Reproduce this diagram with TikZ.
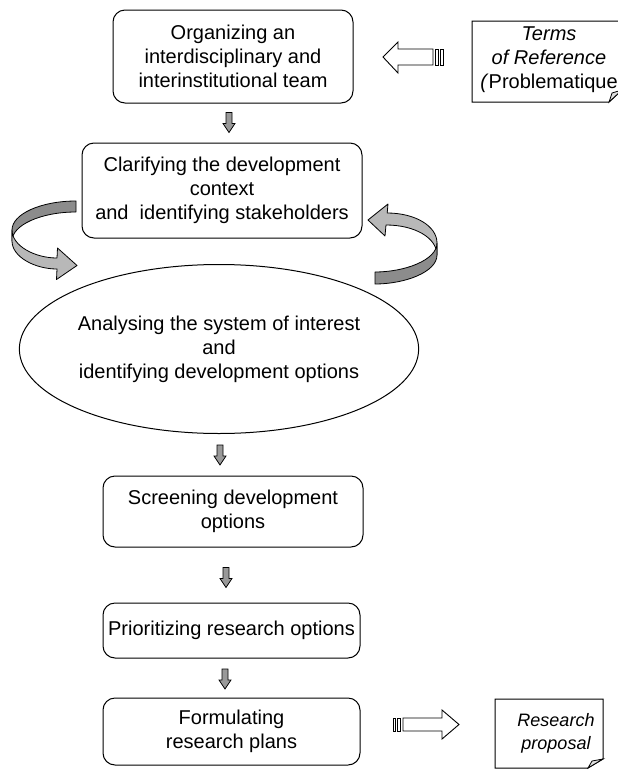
\documentclass[tikz,border=0pt]{standalone}
\usepackage{fontspec}
\setmainfont{Liberation Sans}
\usetikzlibrary{shapes.geometric,calc}
\definecolor{ribdark}{gray}{0.55}
\definecolor{riblight}{gray}{0.72}
\definecolor{arrgray}{gray}{0.6}
\newcommand\dnarrow[1]{%
  \draw[line width=0.8pt, fill=arrgray]
    ($(#1)+(-3,-10)$) -- ++(6,0) -- ++(0,11) -- ++(3,0) -- ($(#1)+(0,10)$)
    -- ($(#1)+(-6,1)$) -- ++(3,0) -- cycle;}
\begin{document}
\begin{tikzpicture}[x=1pt,y=-1pt,
  txt/.style={font=\fontsize{20}{24}\selectfont, align=center},
  box/.style={txt, draw, line width=1pt, rounded corners=12pt, inner sep=2pt},
  rib/.style={draw, line width=0.8pt, line join=round},
  blk/.style={draw, line width=0.9pt, fill=white},
  doc/.style={draw, line width=1pt, fill=white}]
\useasboundingbox (0,0) rectangle (618,769);

% main boxes
\node[box, minimum width=240pt, minimum height=93pt] (b1) at (233,56.5)
  {Organizing an\\interdisciplinary and\\interinstitutional team};
\node[box, minimum width=280pt, minimum height=95pt] (b2) at (222,190.5)
  {Clarifying the development\\context\\and\ \ identifying stakeholders};
\node[txt, draw, line width=1pt, ellipse, minimum width=372pt, minimum height=169pt, inner sep=0pt] (ell) at (219,349)
  {Analysing the system of interest\\and\\identifying development options};
\node[box, minimum width=260pt, minimum height=71pt] (b3) at (233,511.5)
  {Screening development\\options};
\node[box, minimum width=257pt, minimum height=55pt] (b4) at (231.5,630.5)
  {Prioritizing research options};
\node[box, minimum width=257pt, minimum height=67pt] (b5) at (231.5,731.5)
  {Formulating\\research plans};

% documents
\draw[doc] (472,21) -- (622,21) -- (622,90) -- (609,102) -- (472,102) -- cycle;
\draw[line width=0.8pt, fill=gray!25] (609,102) -- (612,93) -- (622,90) -- cycle;
\node[txt, inner sep=0pt] (tor) at (549,60)
  {\textit{Terms}\\\textit{of Reference}\\\textit{(}Problematique};

\draw[doc] (495,699) -- (603,699) -- (603,759) -- (588,768) -- (495,768) -- cycle;
\draw[line width=0.8pt, fill=gray!25] (588,768) -- (592,761) -- (603,759) -- cycle;
\node[txt, inner sep=0pt, font=\fontsize{18}{23}\selectfont\itshape] (rp) at (556,733)
  {Research\\proposal};

% striped block arrows
\draw[blk] (383,57) -- (398,42) -- (398,49) -- (433,49) -- (433,65) -- (398,65) -- (398,73) -- cycle;
\draw[blk] (435.5,49) rectangle (438,65);
\draw[blk] (440.5,49) rectangle (443,65);

\draw[blk] (459,724.5) -- (442,710) -- (442,718) -- (403,718) -- (403,731) -- (442,731) -- (442,739) -- cycle;
\draw[blk] (393,718) rectangle (395.5,731);
\draw[blk] (397.5,718) rectangle (400.5,731);

% small down arrows
\coordinate (a1) at (229,122.5);
\coordinate (a2) at (220,455);
\coordinate (a3) at (226,577.5);
\coordinate (a4) at (225,679);
\dnarrow{a1}
\dnarrow{a2}
\dnarrow{a3}
\dnarrow{a4}

% left curved arrow
\draw[rib, fill=ribdark] (76,201) .. controls (41,201) and (12,214) .. (12,230)
  -- (12,241) .. controls (12,225) and (41,212) .. (76,212) -- cycle;
\draw[rib, fill=riblight] (12,230) .. controls (12,246) and (35,258) .. (57,258)
  -- (57.5,248) -- (77,265.5) -- (56.5,279.5) -- (57,269)
  .. controls (35,269) and (12,257) .. (12,241) -- cycle;

% right curved arrow
\draw[rib, fill=riblight] (387.2,213) .. controls (415,213) and (437,226) .. (437,243)
  -- (437,255) .. controls (437,238) and (415,225) .. (386,225)
  -- (385,236) -- (368,220) -- (388,204) -- cycle;
\draw[rib, fill=ribdark] (437,243) .. controls (437,260) and (405,272) .. (375,272)
  -- (375,284) .. controls (405,284) and (437,272) .. (437,255) -- cycle;
\end{tikzpicture}
\end{document}
